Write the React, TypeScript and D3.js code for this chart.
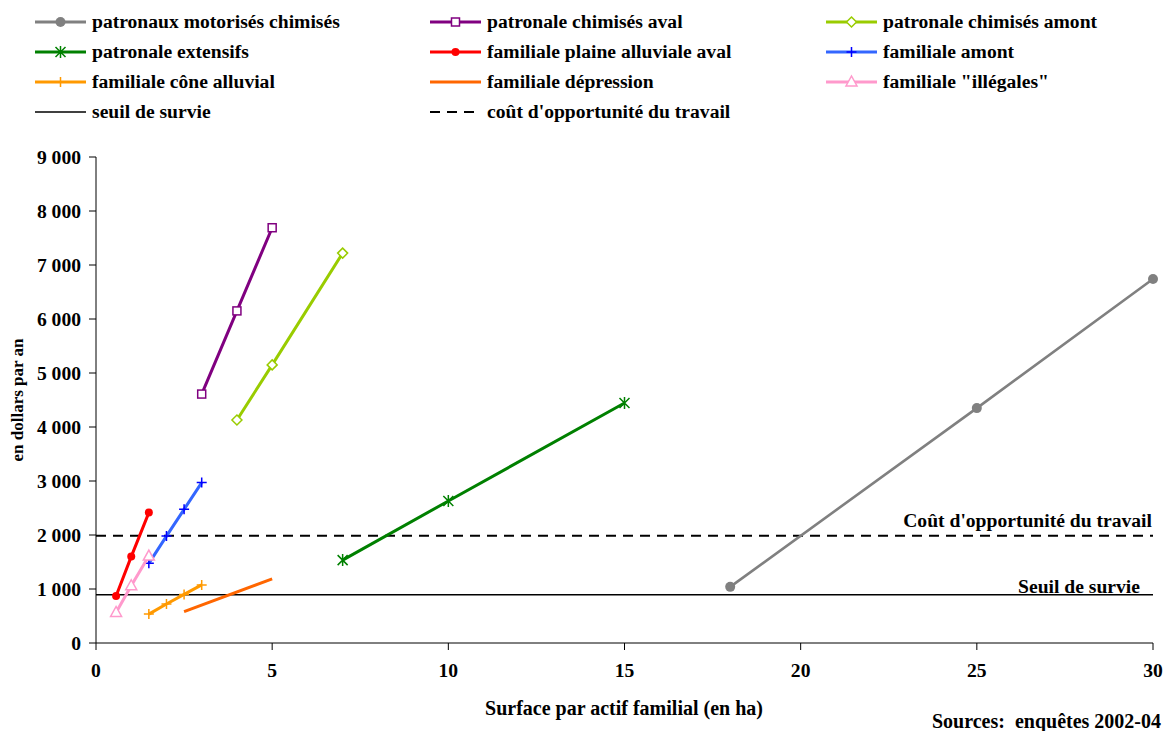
import React from "react";
import * as d3 from "d3";

const xTicks = [0, 5, 10, 15, 20, 25, 30];
const yTicks = [0, 1000, 2000, 3000, 4000, 5000, 6000, 7000, 8000, 9000];

const motorisesX = [18, 25, 30];
const motorisesY = [1040, 4350, 6740];
const avalX = [3, 4, 5];
const avalY = [4610, 6150, 7690];
const amontPX = [4, 5, 7];
const amontPY = [4130, 5150, 7220];
const extensifsX = [7, 10, 15];
const extensifsY = [1535, 2630, 4445];
const plaineX = [0.57, 1, 1.5];
const plaineY = [870, 1600, 2415];
const famAmontX = [1.5, 2, 2.5, 3];
const famAmontY = [1475, 1980, 2475, 2970];
const coneX = [1.5, 2, 2.5, 3];
const coneY = [535, 722, 900, 1076];
const depressionX = [2.5, 5];
const depressionY = [580, 1186];
const illegalesX = [0.57, 1, 1.5];
const illegalesY = [565, 1060, 1610];

const seuilSurvie = 895;
const coutOpportunite = 1985;

type Marker = "circle" | "square" | "diamond" | "asterisk" | "dot" | "plus" | "triangle" | "none";

const series = [
  { name: "patronaux motorisés chimisés", xs: motorisesX, ys: motorisesY, color: "#808080", mcolor: "#808080", marker: "circle" as Marker, w: 2.6 },
  { name: "patronale chimisés aval", xs: avalX, ys: avalY, color: "#800080", mcolor: "#800080", marker: "square" as Marker, w: 3 },
  { name: "patronale chimisés amont", xs: amontPX, ys: amontPY, color: "#99CC00", mcolor: "#99CC00", marker: "diamond" as Marker, w: 3 },
  { name: "patronale extensifs", xs: extensifsX, ys: extensifsY, color: "#008000", mcolor: "#008000", marker: "asterisk" as Marker, w: 3 },
  { name: "familiale plaine alluviale aval", xs: plaineX, ys: plaineY, color: "#FF0000", mcolor: "#FF0000", marker: "dot" as Marker, w: 3 },
  { name: "familiale amont", xs: famAmontX, ys: famAmontY, color: "#3366FF", mcolor: "#0000FF", marker: "plus" as Marker, w: 3 },
  { name: "familiale cône alluvial", xs: coneX, ys: coneY, color: "#FF9900", mcolor: "#FF9900", marker: "plus" as Marker, w: 3 },
  { name: "familiale dépression", xs: depressionX, ys: depressionY, color: "#FF6600", mcolor: "#FF6600", marker: "none" as Marker, w: 3 },
  { name: "familiale \"illégales\"", xs: illegalesX, ys: illegalesY, color: "#FF99CC", mcolor: "#FF99CC", marker: "triangle" as Marker, w: 3 },
];

const FONT = "'Liberation Serif', 'Times New Roman', serif";
const FS = 19.6;

function MarkerShape({ type, x, y, color }: { type: Marker; x: number; y: number; color: string }) {
  switch (type) {
    case "circle":
      return <circle cx={x} cy={y} r={5} fill={color} />;
    case "dot":
      return <circle cx={x} cy={y} r={4} fill={color} />;
    case "square":
      return <rect x={x - 4} y={y - 4} width={8} height={8} fill="white" stroke={color} strokeWidth={1.5} />;
    case "diamond":
      return <path d={`M${x},${y - 5}L${x + 5},${y}L${x},${y + 5}L${x - 5},${y}Z`} fill="white" stroke={color} strokeWidth={1.5} />;
    case "triangle":
      return <path d={`M${x},${y - 6}L${x + 5.5},${y + 4}L${x - 5.5},${y + 4}Z`} fill="white" stroke={color} strokeWidth={1.5} />;
    case "plus":
      return <path d={`M${x - 5},${y}H${x + 5}M${x},${y - 5}V${y + 5}`} stroke={color} strokeWidth={1.5} />;
    case "asterisk":
      return (
        <path
          d={`M${x - 5},${y - 5}L${x + 5},${y + 5}M${x - 5},${y + 5}L${x + 5},${y - 5}M${x},${y - 6}V${y + 6}`}
          stroke={color}
          strokeWidth={1.5}
        />
      );
    default:
      return null;
  }
}

export default function App() {
  const W = 1165;
  const H = 731;
  const x = d3.scaleLinear().domain([0, 30]).range([96, 1153]);
  const y = d3.scaleLinear().domain([0, 9000]).range([643, 157]);
  const fmt = (v: number) => d3.format(",")(v).replace(/,/g, " ");
  const lineGen = d3
    .line<[number, number]>()
    .x((d) => x(d[0]))
    .y((d) => y(d[1]));

  const legendCols = [35, 430, 826];
  const legendRows = [22, 52, 82, 112];
  const legendItems = [
    ...series.map((s) => ({ ...s, dash: "", width: 3 })),
    { name: "seuil de survie", color: "#000", mcolor: "#000", marker: "none" as Marker, dash: "", width: 1.5, xs: [], ys: [] },
    { name: "coût d'opportunité du travail", color: "#000", mcolor: "#000", marker: "none" as Marker, dash: "10,7", width: 2, xs: [], ys: [] },
  ];

  return (
    <svg width={W} height={H} style={{ position: "absolute", left: 0, top: 0 }} fontFamily={FONT}>
      <rect width={W} height={H} fill="white" />
      {/* Legend */}
      {legendItems.map((it, i) => {
        const col = i % 3;
        const row = Math.floor(i / 3);
        const lx = legendCols[col];
        const ly = legendRows[row];
        return (
          <g key={it.name}>
            <line x1={lx} x2={lx + 51} y1={ly} y2={ly} stroke={it.color} strokeWidth={it.width} strokeDasharray={it.dash || undefined} />
            <MarkerShape type={it.marker} x={lx + 25.5} y={ly} color={it.mcolor} />
            <text x={lx + 57} y={ly + 6} fontSize={FS} fontWeight="bold" fill="#000">
              {it.name}
            </text>
          </g>
        );
      })}

      {/* Axes */}
      <line x1={x(0)} x2={x(0)} y1={y(9000)} y2={y(0)} stroke="#000" strokeWidth={1} />
      <line x1={x(0)} x2={x(30)} y1={y(0)} y2={y(0)} stroke="#000" strokeWidth={1} />
      {yTicks.map((t) => (
        <g key={"y" + t}>
          <line x1={x(0) - 7} x2={x(0)} y1={y(t)} y2={y(t)} stroke="#000" />
          <text x={81} y={y(t) + 6.5} fontSize={FS} fontWeight="bold" textAnchor="end">
            {fmt(t)}
          </text>
        </g>
      ))}
      {xTicks.map((t) => (
        <g key={"x" + t}>
          <line x1={x(t)} x2={x(t)} y1={y(0)} y2={y(0) + 7} stroke="#000" />
          <text x={x(t)} y={677} fontSize={FS} fontWeight="bold" textAnchor="middle">
            {t}
          </text>
        </g>
      ))}
      <text
        transform={`translate(23,${y(4500)}) rotate(-90)`}
        fontSize={17}
        fontWeight="bold"
        textAnchor="middle"
      >
        en dollars par an
      </text>
      <text x={624} y={715} fontSize={20} fontWeight="bold" textAnchor="middle">
        Surface par actif familial (en ha)
      </text>
      <text x={1161} y={728} fontSize={20} fontWeight="bold" textAnchor="end" xmlSpace="preserve">
        Sources:  enquêtes 2002-04
      </text>

      {/* Reference lines */}
      <line x1={x(0)} x2={x(30)} y1={y(seuilSurvie)} y2={y(seuilSurvie)} stroke="#000" strokeWidth={1.5} />
      <line x1={x(0)} x2={x(30)} y1={y(coutOpportunite)} y2={y(coutOpportunite)} stroke="#000" strokeWidth={2} strokeDasharray="10,7" />
      <text x={1152} y={y(coutOpportunite) - 9} fontSize={FS} fontWeight="bold" textAnchor="end">
        Coût d'opportunité du travail
      </text>
      <text x={1140} y={y(seuilSurvie) - 2} fontSize={FS} fontWeight="bold" textAnchor="end">
        Seuil de survie
      </text>

      {/* Series */}
      {series.map((s) => {
        const pts = s.xs.map((v, i) => [v, s.ys[i]] as [number, number]);
        return (
          <g key={s.name}>
            <path d={lineGen(pts) || ""} fill="none" stroke={s.color} strokeWidth={s.w} />
            {pts.map((p, i) => (
              <MarkerShape key={i} type={s.marker} x={x(p[0])} y={y(p[1])} color={s.mcolor} />
            ))}
          </g>
        );
      })}
    </svg>
  );
}
